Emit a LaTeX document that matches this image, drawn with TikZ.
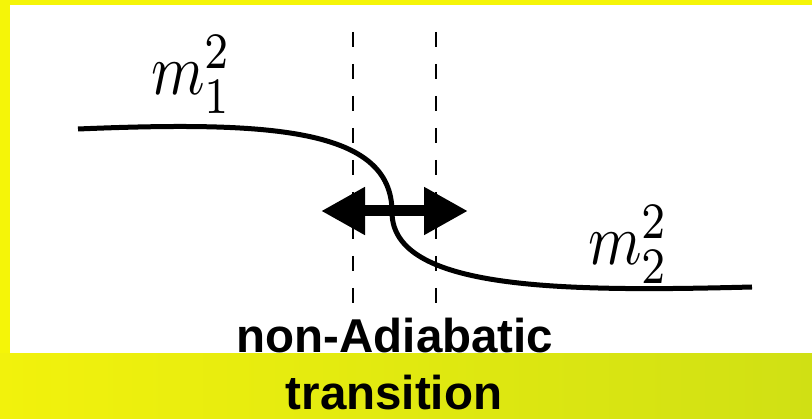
\documentclass[tikz,border=0pt]{standalone}
\usepackage{fontspec}
\setsansfont{Liberation Sans}
\usetikzlibrary{arrows.meta}
\definecolor{frameyellow}{RGB}{245,245,8}
\definecolor{bandleft}{RGB}{242,242,12}
\definecolor{bandright}{RGB}{208,224,20}
\tikzset{
    level/.style={line width=5pt},
    marker/.style={line width=2pt, dash pattern=on 15pt off 17pt},
    label/.style={inner sep=0pt, font=\fontsize{47.5}{50}\selectfont\sffamily\bfseries}
}
\newcommand{\masslabel}[1]{\scalebox{6.1}[7.3]{$m_{#1}^2$}}
\begin{document}
\begin{tikzpicture}[x=1pt, y=-1pt, >=Triangle]
    \useasboundingbox (0,0) rectangle (812,419);
    \fill[frameyellow] (0,0) rectangle (812,419);
    \fill[white] (10,5) rectangle (812,354);
    \shade[left color=bandleft, right color=bandright] (0,354) rectangle (812,419);

    \foreach \x in {353, 436} {
        \draw[marker] (\x,32) -- (\x,303);
    }

    \coordinate (start) at (78,129);
    \coordinate (cross) at (392,212);
    \coordinate (stop) at (752,287);
    \draw[level] (start) .. controls (270,121) and (392,128) .. (cross)
        .. controls (392,290) and (560,292) .. (stop);

    \coordinate (left) at (321,211);
    \coordinate (right) at (468,211);
    \draw[line width=11pt, {Triangle[length=44pt,width=45pt]}-{Triangle[length=44pt,width=45pt]}] (left) -- (right);

    \node[anchor=base west, inner sep=0pt] (m1) at (151,95) {\masslabel{1}};
    \node[anchor=base west, inner sep=0pt] (m2) at (588,265) {\masslabel{2}};

    \node[label, anchor=base] (nonad) at (395,353) {non-Adiabatic};
    \node[label, anchor=base] (trans) at (394,410) {transition};
\end{tikzpicture}
\end{document}
